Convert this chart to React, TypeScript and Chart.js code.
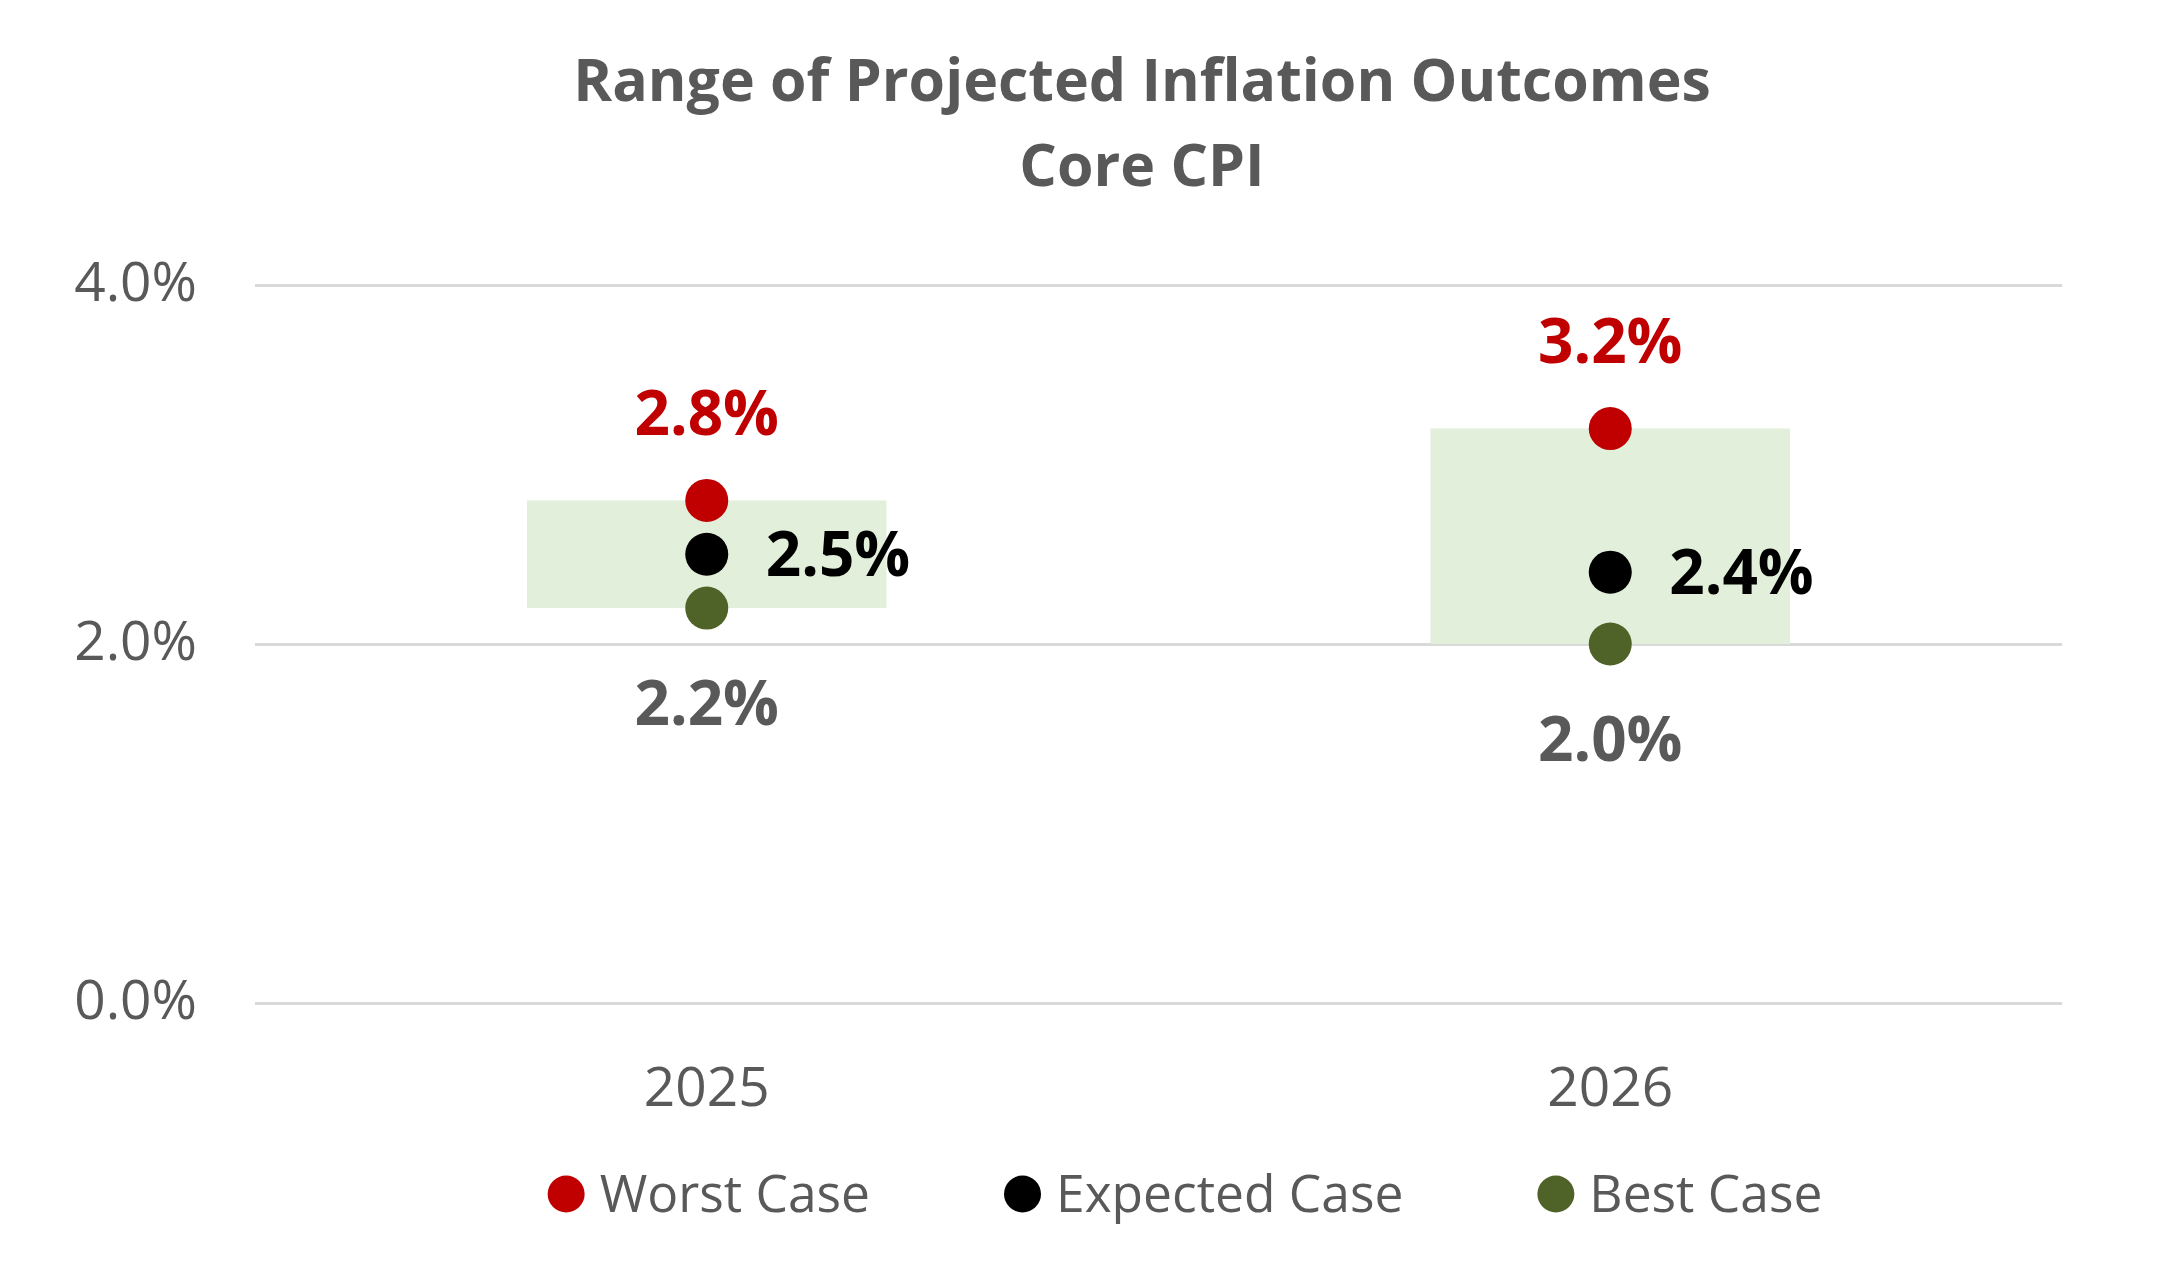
import React, { useEffect, useRef } from "react";
import { Chart, registerables } from "chart.js";

Chart.register(...registerables);

// ---- data ----
const categories = ["2025", "2026"];
const worstCase = [2.8, 3.2];
const expectedCase = [2.5, 2.4];
const bestCase = [2.2, 2.0];
const yTicks = [0, 2, 4];
const titleLines = ["Range of Projected Inflation Outcomes", "Core CPI"];
const seriesNames = ["Worst Case", "Expected Case", "Best Case"];
const seriesColors = ["#C00000", "#000000", "#4F6228"];
const labelColors = ["#C00000", "#000000", "#595959"];
const labelPositions = ["above", "right", "below"];

const FONT = "'Open Sans', 'Noto Sans', sans-serif";
const GRAY = "#595959";

const titlePlugin = {
  id: "customTitle",
  afterDraw(chart: any) {
    const ctx = chart.ctx;
    const size = 59;
    ctx.save();
    ctx.font = `bold ${size}px ${FONT}`;
    ctx.fillStyle = GRAY;
    ctx.textAlign = "center";
    ctx.textBaseline = "alphabetic";
    const centers = [80, 165];
    titleLines.forEach((t, i) => {
      ctx.fillText(t, 1142, centers[i] + (0.714 * size) / 2);
    });
    ctx.restore();
  },
};

const valueLabelsPlugin = {
  id: "valueLabels",
  afterDatasetsDraw(chart: any) {
    const ctx = chart.ctx;
    const size = 62;
    ctx.save();
    ctx.font = `bold ${size}px ${FONT}`;
    ctx.textBaseline = "alphabetic";
    const capHalf = (0.714 * size) / 2;
    chart.data.datasets.forEach((ds: any, di: number) => {
      if (ds.seriesIndex === undefined) return;
      const meta = chart.getDatasetMeta(di);
      const pos = labelPositions[ds.seriesIndex];
      ctx.fillStyle = labelColors[ds.seriesIndex];
      meta.data.forEach((pt: any, i: number) => {
        const v = ds.data[i];
        const txt = v.toFixed(1) + "%";
        if (pos === "above") {
          ctx.textAlign = "center";
          ctx.fillText(txt, pt.x, pt.y - 88 + capHalf);
        } else if (pos === "below") {
          ctx.textAlign = "center";
          ctx.fillText(txt, pt.x, pt.y + 95 + capHalf);
        } else {
          ctx.textAlign = "left";
          ctx.fillText(txt, pt.x + 59, pt.y + capHalf);
        }
      });
    });
    ctx.restore();
  },
};

const legendPlugin = {
  id: "customLegend",
  afterDraw(chart: any) {
    const ctx = chart.ctx;
    const size = 51.5;
    const r = 18.5;
    const textOffset = 33.5;
    const gap = 134;
    ctx.save();
    ctx.font = `${size}px ${FONT}`;
    const widths = seriesNames.map((n) => ctx.measureText(n).width);
    const itemWidths = widths.map((w) => r + textOffset + w);
    const total = itemWidths.reduce((a, b) => a + b, 0) + gap * (seriesNames.length - 1);
    const cx = 1185;
    const cy = 1194;
    let x = cx - total / 2;
    seriesNames.forEach((name, i) => {
      ctx.fillStyle = seriesColors[i];
      ctx.beginPath();
      ctx.arc(x + r, cy, r, 0, Math.PI * 2);
      ctx.fill();
      ctx.fillStyle = GRAY;
      ctx.textAlign = "left";
      ctx.textBaseline = "alphabetic";
      ctx.fillText(name, x + r + textOffset, cy + (0.714 * size) / 2);
      x += itemWidths[i] + gap;
    });
    ctx.restore();
  },
};

export default function App() {
  const ref = useRef<HTMLCanvasElement | null>(null);

  useEffect(() => {
    if (!ref.current) return;
    const seriesData = [worstCase, expectedCase, bestCase];
    const pointSets = seriesData.map((d, i) => ({
      type: "line" as const,
      label: seriesNames[i],
      seriesIndex: i,
      data: d,
      showLine: false,
      pointRadius: 21.5,
      pointHoverRadius: 21.5,
      pointBorderWidth: 0,
      pointBackgroundColor: seriesColors[i],
      backgroundColor: seriesColors[i],
      borderColor: seriesColors[i],
      order: 1 + i,
      clip: false,
    }));
    const chart = new Chart(ref.current, {
      type: "bar",
      data: {
        labels: categories,
        datasets: [
          {
            type: "bar",
            label: "Range",
            data: categories.map((_, i) => [bestCase[i], worstCase[i]]),
            backgroundColor: "#E2EFDA",
            borderWidth: 0,
            barPercentage: 0.398,
            categoryPercentage: 1,
            order: 10,
          } as any,
          ...(pointSets as any[]),
        ],
      },
      options: {
        animation: false,
        responsive: false,
        devicePixelRatio: 1,
        layout: { padding: { left: 75, right: 98, top: 285, bottom: 151 } },
        plugins: {
          legend: { display: false },
          tooltip: { enabled: false },
          title: { display: false },
        },
        scales: {
          x: {
            offset: true,
            grid: { display: false },
            border: { display: false },
            ticks: { color: GRAY, font: { family: FONT, size: 55 }, padding: 46, maxRotation: 0 },
            afterFit: (axis: any) => {
              axis.height = 112;
            },
          },
          y: {
            min: 0,
            max: 4,
            afterBuildTicks: (axis: any) => {
              axis.ticks = yTicks.map((v) => ({ value: v }));
            },
            grid: { color: "#D9D9D9", lineWidth: 3, drawTicks: false },
            border: { display: false },
            ticks: {
              color: GRAY,
              font: { family: FONT, size: 55 },
              padding: 58,
              callback: (v: any) => Number(v).toFixed(1) + "%",
            },
            afterFit: (axis: any) => {
              axis.width = 180;
            },
          },
        },
      } as any,
      plugins: [valueLabelsPlugin, legendPlugin, titlePlugin],
    });
    return () => chart.destroy();
  }, []);

  return (
    <div style={{ position: "absolute", left: 0, top: 0, width: 2160, height: 1266, background: "#fff" }}>
      <canvas ref={ref} width={2160} height={1266} style={{ display: "block" }} />
    </div>
  );
}
